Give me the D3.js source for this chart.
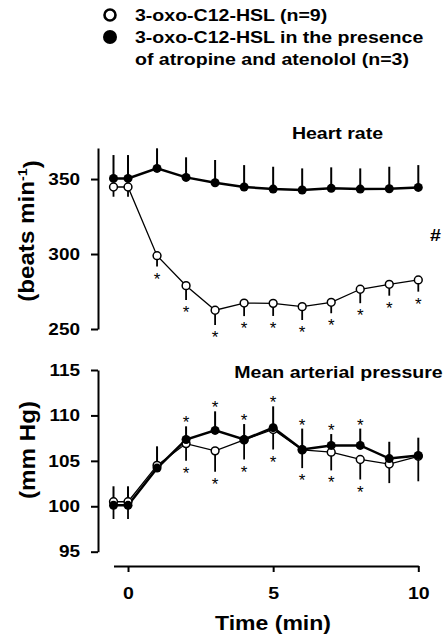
<!DOCTYPE html>
<html>
<head>
<meta charset="utf-8">
<script src="https://cdn.jsdelivr.net/npm/d3@7"></script>
<style>
  html, body { margin: 0; padding: 0; background: #fff; }
  svg { display: block; }
  text { font-family: "Liberation Sans", Arial, Helvetica, sans-serif; font-weight: bold; fill: #000; }
</style>
</head>
<body>
<script>
// ---------------- data ----------------
const times = [-0.5, 0, 1, 2, 3, 4, 5, 6, 7, 8, 9, 10];
const xTicks = [0, 5, 10];

// Heart rate (beats min-1)
const hrOpen      = [344.7, 344.7, 298.9, 278.9, 262.5, 267.3, 267.1, 264.9, 267.8, 276.5, 279.8, 282.7];
const hrOpenSem   = [6.5, 6.5, 7.3, 9.5, 9.8, 8.7, 8.4, 8.9, 7.3, 9.3, 7.6, 7.8];
const hrFilled    = [350.4, 350.4, 357.1, 351.1, 347.5, 344.7, 343.3, 342.7, 343.8, 343.3, 343.5, 344.4];
const hrFilledSem = [15.6, 15.6, 13.4, 13.4, 15.2, 14.6, 14.9, 14.4, 14.0, 13.8, 14.7, 14.9];
const hrOpenSig   = [0, 0, 1, 1, 1, 1, 1, 1, 1, 1, 1, 1];
const hrTicks = [250, 300, 350];

// Mean arterial pressure (mm Hg)
const mapOpen      = [100.5, 100.5, 104.5, 106.9, 106.1, 107.3, 108.45, 106.2, 105.95, 105.15, 104.65, 105.5];
const mapOpenSem   = [1.9, 1.9, 0.6, 1.9, 2.3, 2.15, 2.2, 2.0, 2.0, 2.2, 2.1, 2.75];
const mapFilled    = [100.1, 100.1, 104.2, 107.35, 108.35, 107.35, 108.65, 106.25, 106.7, 106.7, 105.25, 105.6];
const mapFilledSem = [2.1, 2.1, 2.4, 1.45, 2.1, 1.7, 2.35, 2.3, 1.25, 1.85, 1.85, 1.95];
const mapSig       = [0, 0, 0, 1, 1, 1, 1, 1, 1, 1, 0, 0];
const mapTicks = [95, 100, 105, 110, 115];

const legendLabels = ["3-oxo-C12-HSL (n=9)", "3-oxo-C12-HSL in the presence", "of atropine and atenolol (n=3)"];

// ---------------- layout ----------------
const W = 447, H = 640;
const SX = 1.15; // horizontal glyph stretch of the reference lettering
const svg = d3.select("body").append("svg").attr("width", W).attr("height", H);
svg.append("rect").attr("width", W).attr("height", H).attr("fill", "#fff");

const axisX = 98;
const x = d3.scaleLinear().domain([-0.5, 10]).range([113.5, 418.3]);
const yHR = d3.scaleLinear().domain([250, 370.7]).range([329, 148]);
const yMAP = d3.scaleLinear().domain([95, 115]).range([551.7, 370]);

function htext(g, px, py, s, size, anchor, weight) {
  return g.append("text")
    .attr("transform", `translate(${px},${py}) scale(${SX},1)`)
    .attr("text-anchor", anchor || "start")
    .style("font-size", size + "px")
    .style("font-weight", weight || "bold")
    .text(s);
}

function yAxis(scale, ticks) {
  const g = svg.append("g").attr("transform", `translate(${axisX},0)`)
    .call(d3.axisLeft(scale).tickValues(ticks).tickSize(7).tickSizeOuter(0).tickFormat(d3.format("d")));
  g.select(".domain").attr("stroke", "#000").attr("stroke-width", 2);
  g.selectAll(".tick line").attr("stroke", "#000").attr("stroke-width", 2);
  g.selectAll(".tick text")
    .attr("x", -18 / SX)
    .attr("transform", `scale(${SX},1)`)
    .style("font-size", "16.5px").style("font-weight", "bold")
    .attr("fill", "#000");
  return g;
}

yAxis(yHR, hrTicks);
yAxis(yMAP, mapTicks);

// x axis
const gx = svg.append("g").attr("transform", "translate(0,566)")
  .call(d3.axisBottom(x).tickValues(xTicks).tickSize(6).tickSizeOuter(0).tickFormat(d3.format("d")));
gx.select(".domain").attr("stroke", "#000").attr("stroke-width", 2);
gx.selectAll(".tick line").attr("stroke", "#000").attr("stroke-width", 2);
gx.selectAll(".tick text")
  .attr("y", 21).attr("dy", "0.71em")
  .attr("transform", `scale(${SX},1)`)
  .style("font-size", "17px").style("font-weight", "bold").attr("fill", "#000");

// ---------------- panels ----------------
function star(g, px, cy) {
  g.append("text").attr("x", px).attr("y", cy + 9.6).attr("text-anchor", "middle")
    .style("font-size", "17px").style("font-weight", "normal").attr("fill", "#000").text("*");
}

function panel(y, openV, openS, filledV, filledS, sigBelow, sigAbove) {
  const g = svg.append("g");
  const line = d3.line().x((d, i) => x(times[i])).y(d => y(d));

  // error bars: open series downward, filled series upward
  g.selectAll(".eo").data(openV).enter().append("line")
    .attr("x1", (d, i) => x(times[i])).attr("x2", (d, i) => x(times[i]))
    .attr("y1", d => y(d)).attr("y2", (d, i) => y(d - openS[i]))
    .attr("stroke", "#000").attr("stroke-width", 1.8);
  g.selectAll(".ef").data(filledV).enter().append("line")
    .attr("x1", (d, i) => x(times[i])).attr("x2", (d, i) => x(times[i]))
    .attr("y1", d => y(d)).attr("y2", (d, i) => y(d + filledS[i]))
    .attr("stroke", "#000").attr("stroke-width", 2);

  // lines
  g.append("path").datum(openV).attr("d", line)
    .attr("fill", "none").attr("stroke", "#000").attr("stroke-width", 1.3);
  g.append("path").datum(filledV).attr("d", line)
    .attr("fill", "none").attr("stroke", "#000").attr("stroke-width", 2.5);

  // markers
  g.selectAll(".mo").data(openV).enter().append("circle")
    .attr("cx", (d, i) => x(times[i])).attr("cy", d => y(d)).attr("r", 3.9)
    .attr("fill", "#fff").attr("stroke", "#000").attr("stroke-width", 1.5);
  g.selectAll(".mf").data(filledV).enter().append("circle")
    .attr("cx", (d, i) => x(times[i])).attr("cy", d => y(d)).attr("r", 4.5)
    .attr("fill", "#000");

  // significance stars
  times.forEach((t, i) => {
    if (sigBelow && sigBelow[i]) star(g, x(t), y(openV[i] - openS[i]) + 8.5);
    if (sigAbove && sigAbove[i]) star(g, x(t), y(filledV[i] + filledS[i]) - 7.5);
  });
}

panel(yHR, hrOpen, hrOpenSem, hrFilled, hrFilledSem, hrOpenSig, null);
panel(yMAP, mapOpen, mapOpenSem, mapFilled, mapFilledSem, mapSig, mapSig);

// ---------------- titles and labels ----------------
htext(svg, 337.5, 139, "Heart rate", 17, "middle");
htext(svg, 338.5, 378, "Mean arterial pressure", 17, "middle");
htext(svg, 435.5, 241, "#", 17, "middle");
htext(svg, 273, 630, "Time (min)", 20, "middle");

// rotated y titles
const yt1 = svg.append("text")
  .attr("transform", `translate(34,231) rotate(-90) scale(1.1,1)`)
  .attr("text-anchor", "middle").style("font-size", "22px");
yt1.append("tspan").text("(beats min");
yt1.append("tspan").attr("dy", "-0.55em").style("font-size", "13px").text("-1");
yt1.append("tspan").attr("dy", "0.55em").text(")");

svg.append("text")
  .attr("transform", `translate(35,450) rotate(-90) scale(1.1,1)`)
  .attr("text-anchor", "middle").style("font-size", "22px").text("(mm Hg)");

// ---------------- legend ----------------
svg.append("circle").attr("cx", 110).attr("cy", 15).attr("r", 5.5)
  .attr("fill", "#fff").attr("stroke", "#000").attr("stroke-width", 2.6);
svg.append("circle").attr("cx", 110).attr("cy", 37).attr("r", 7).attr("fill", "#000");
const legY = [20.5, 42.5, 65];
legendLabels.forEach((s, i) => htext(svg, 135, legY[i], s, 17, "start"));
</script>
</body>
</html>
